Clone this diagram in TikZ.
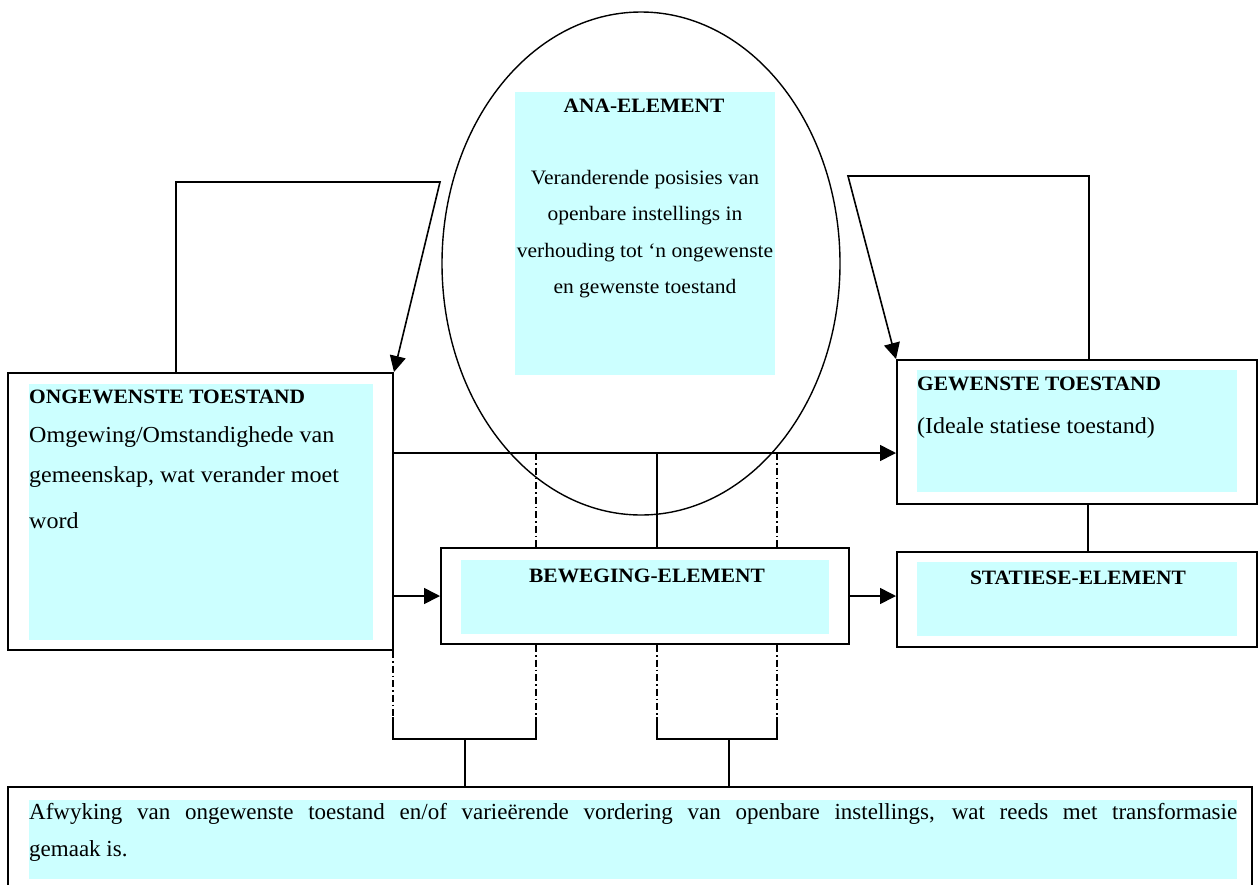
\documentclass[tikz,border=0pt]{standalone}
\usepackage{fontspec}
\setmainfont{Liberation Serif}
\newfontfamily\tnr[FakeStretch=1.05]{Liberation Serif}
\usetikzlibrary{arrows.meta,calc,shapes.geometric}
\definecolor{lcyan}{HTML}{CCFFFF}
\begin{document}
\begin{tikzpicture}[x=1pt,y=-1pt,
  box/.style={draw,line width=2pt,rectangle,inner sep=0pt},
  cyanbg/.style={fill=lcyan,rectangle,inner sep=0pt,outer sep=0pt},
  conn/.style={line width=1.6pt},
  arr/.style={conn,-{Triangle[length=16pt,width=16pt]}},
  dd/.style={line width=1.4pt,dash pattern=on 7pt off 3pt on 1.5pt off 3pt},
  ttl/.style={inner sep=0pt,font=\tnr\bfseries\fontsize{20.4}{24}\selectfont},
  bod/.style={inner sep=0pt,font=\tnr\fontsize{22.9}{27}\selectfont},
  ebod/.style={inner sep=0pt,font=\tnr\fontsize{20.5}{24}\selectfont},
]
\useasboundingbox[fill=white] (0,0) rectangle (1258,884);
\clip (0,0) rectangle (1258,884);

% cyan backgrounds
\node[cyanbg,minimum width=260pt,minimum height=283pt] (anac) at (645,233.5) {};
\node[cyanbg,minimum width=344pt,minimum height=256pt] (ongc) at (201,512) {};
\node[cyanbg,minimum width=320pt,minimum height=122pt] (gewc) at (1077,431) {};
\node[cyanbg,minimum width=320pt,minimum height=74pt] (statc) at (1077,599) {};
\node[cyanbg,minimum width=368pt,minimum height=74pt] (bewc) at (645,597) {};
\node[cyanbg,minimum width=1208pt,minimum height=79pt] (botc) at (633,839.5) {};

% outer boxes
\node[box,minimum width=385pt,minimum height=277pt] (ong) at (200.5,511.5) {};
\node[box,minimum width=360pt,minimum height=144pt] (gew) at (1077,432) {};
\node[box,minimum width=360pt,minimum height=95pt] (stat) at (1077,599.5) {};
\node[box,minimum width=408pt,minimum height=96pt] (bew) at (645,596) {};
\node[box,minimum width=1244pt,minimum height=118pt] (bot) at (630,846) {};

% ellipse
\node[draw,ellipse,line width=1.4pt,minimum width=398pt,minimum height=503pt,inner sep=0pt] (ana) at (641,263.5) {};

% texts
\node[ttl,anchor=base] (anat) at (644,112) {ANA-ELEMENT};
\node[ebod,anchor=base] (ana1) at (645,184) {Veranderende posisies van};
\node[ebod,anchor=base] (ana2) at (645,220.5) {openbare instellings in};
\node[ebod,anchor=base] (ana3) at (645,257) {verhouding tot ‘n ongewenste};
\node[ebod,anchor=base] (ana4) at (645,293.5) {en gewenste toestand};

\node[ttl,anchor=base west] (ongt) at (29,403) {ONGEWENSTE TOESTAND};
\node[bod,anchor=base west] (ong1) at (29,442) {Omgewing/Omstandighede van};
\node[bod,anchor=base west] (ong2) at (29,482) {gemeenskap, wat verander moet};
\node[bod,anchor=base west] (ong3) at (29,528) {word};

\node[ttl,anchor=base west] (gewt) at (917,390) {GEWENSTE TOESTAND};
\node[bod,anchor=base west] (gew1) at (917,433) {(Ideale statiese toestand)};
\node[ttl,anchor=base] (statt) at (1078,584) {STATIESE-ELEMENT};
\node[ttl,anchor=base] (bewt) at (647,582) {BEWEGING-ELEMENT};

\node[inner sep=0pt,anchor=base west,text width=1208pt,align=justify,
  font=\fontsize{23}{37}\selectfont] (bott) at (29,819)
  {Afwyking van ongewenste toestand en/of varieërende vordering van openbare instellings, wat reeds met transformasie\linebreak gemaak is.};

% connectors
\coordinate (lc1) at (176,182);
\coordinate (lc2) at (440,182);
\draw[arr] (lc1 |- ong.north) -- (lc1) -- (lc2) -- (ong.north east);
\coordinate (rc1) at (1089,176);
\coordinate (rc2) at (848,176);
\draw[arr] (rc1 |- gew.north) -- (rc1) -- (rc2) -- (gew.north west);

\coordinate (h1) at (0,453);
\draw[arr] (ong.east |- h1) -- (gew.west |- h1);
\draw[arr] (ong.east |- bew.west) -- (bew.west);
\draw[arr] (bew.east) -- (stat.west |- bew.east);
\coordinate (v1) at (657,453);
\draw[conn] (v1) -- (v1 |- bew.north);
\coordinate (v2) at (1088,0);
\draw[conn] (v2 |- gew.south) -- (v2 |- stat.north);

% dash-dot lines
\coordinate (d1) at (536,717);
\coordinate (d2) at (777,717);
\coordinate (d3) at (393,717);
\coordinate (d4) at (657,717);
\draw[dd] (d1 |- h1) -- (d1 |- bew.north);
\draw[dd] (d2 |- h1) -- (d2 |- bew.north);
\draw[dd] (d1 |- bew.south) -- (d1);
\draw[dd] (d2 |- bew.south) -- (d2);
\draw[dd] (d3 |- ong.south) -- (d3);
\draw[dd] (d4 |- bew.south) -- (d4);

% brackets
\coordinate (bk) at (0,739);
\draw[conn] (d3) -- (d3 |- bk) -- (d1 |- bk) -- (d1);
\draw[conn] (d4) -- (d4 |- bk) -- (d2 |- bk) -- (d2);
\coordinate (m1) at (465,739);
\coordinate (m2) at (729,739);
\draw[conn] (m1) -- (m1 |- bot.north);
\draw[conn] (m2) -- (m2 |- bot.north);
\end{tikzpicture}
\end{document}
